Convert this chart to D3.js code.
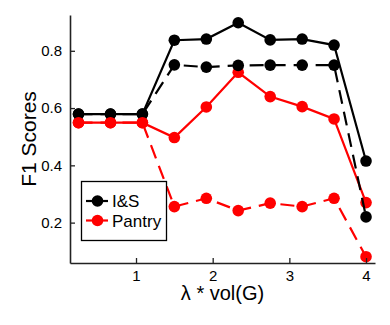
<!DOCTYPE html>
<html><head><meta charset="utf-8">
<script src="https://cdn.jsdelivr.net/npm/d3@7"></script>
<style>body{margin:0;background:#fff;} svg{display:block;font-family:"Liberation Sans",Arial,sans-serif;}</style>
</head><body>
<svg id="c" width="390" height="325"></svg>
<script>
const xValues = [0.25, 0.667, 1.083, 1.5, 1.917, 2.333, 2.75, 3.167, 3.583, 4.0];
const isSolid   = [0.579, 0.579, 0.579, 0.837, 0.841, 0.898, 0.838, 0.841, 0.820, 0.415];
const isDashed  = [0.579, 0.579, 0.579, 0.751, 0.743, 0.749, 0.750, 0.750, 0.750, 0.220];
const panSolid  = [0.549, 0.549, 0.549, 0.497, 0.604, 0.725, 0.640, 0.605, 0.562, 0.270];
const panDashed = [0.549, 0.549, 0.549, 0.256, 0.285, 0.242, 0.268, 0.256, 0.285, 0.081];
const xTicks = [1, 2, 3, 4];
const yTicks = [0.2, 0.4, 0.6, 0.8];
const legendLabels = ["I&S", "Pantry"];
const colors = ["#000000", "#ff0000"];

const svg = d3.select("#c");
const L = 70, R = 375, T = 15, B = 263;
const x = d3.scaleLinear().domain([0.139, 4.117]).range([L, R]);
const y = d3.scaleLinear().domain([0.059, 0.925]).range([B, T]);

const series = [
  {v: isSolid, c: colors[0], dash: null},
  {v: panSolid, c: colors[1], dash: null},
  {v: isDashed, c: colors[0], dash: "14,8"},
  {v: panDashed, c: colors[1], dash: "14,8"}
];

const line = d3.line().x((d,i)=>x(xValues[i])).y(d=>y(d));
series.forEach(s=>{
  svg.append("path").attr("d", line(s.v)).attr("fill","none")
    .attr("stroke", s.c).attr("stroke-width", 2.2)
    .attr("stroke-dasharray", s.dash);
  svg.selectAll(null).data(s.v).enter().append("circle")
    .attr("cx",(d,i)=>x(xValues[i])).attr("cy",d=>y(d)).attr("r",5.8)
    .attr("fill", s.c);
});

// axes
const xa = svg.append("g").attr("transform",`translate(0,${B})`)
  .call(d3.axisBottom(x).tickValues(xTicks).tickFormat(d3.format("d")).tickSizeInner(-5).tickSizeOuter(0).tickPadding(7));
const ya = svg.append("g").attr("transform",`translate(${L},0)`)
  .call(d3.axisLeft(y).tickValues(yTicks).tickFormat(d3.format(".1f")).tickSizeInner(-5).tickSizeOuter(0).tickPadding(8));
[xa, ya].forEach(a=>{
  a.select(".domain").attr("stroke","#222").attr("stroke-width",1.6);
  a.selectAll(".tick line").attr("stroke","#222").attr("stroke-width",1.3);
  a.selectAll(".tick text").attr("fill","#000").style("font-size","15px").style("font-family","'Liberation Sans',Arial,sans-serif");
});

svg.append("text").attr("x", 222.5).attr("y", 300).attr("text-anchor","middle")
  .style("font-size","20px").text("λ * vol(G)");
svg.append("text").attr("transform","translate(36,139) rotate(-90)").attr("text-anchor","middle")
  .style("font-size","21px").text("F1 Scores");

// legend
const lg = svg.append("g");
lg.append("rect").attr("x",81.5).attr("y",181.5).attr("width",85).attr("height",59)
  .attr("fill","#fff").attr("stroke","#000").attr("stroke-width",1.3);
legendLabels.forEach((lab,i)=>{
  const yy = 201 + i*19.5;
  lg.append("line").attr("x1",86).attr("x2",108).attr("y1",yy).attr("y2",yy)
    .attr("stroke",colors[i]).attr("stroke-width",2.2);
  lg.append("circle").attr("cx",97.5).attr("cy",yy).attr("r",5.8).attr("fill",colors[i]);
  lg.append("text").attr("x",112).attr("y",yy+6).style("font-size","17px").text(lab);
});
</script>
</body></html>
